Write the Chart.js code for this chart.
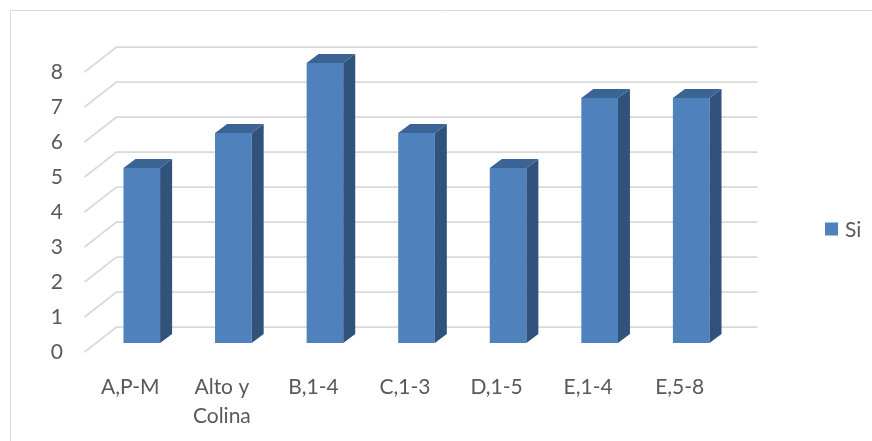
<!DOCTYPE html>
<html>
<head>
<meta charset="utf-8">
<script src="https://cdn.jsdelivr.net/npm/chart.js@4/dist/chart.umd.min.js"></script>
<style>
  html, body { margin: 0; padding: 0; background: #ffffff; }
  canvas { display: block; }
</style>
</head>
<body>
<canvas id="chart" width="872" height="441"></canvas>
<script>
// Categories and counts
const categories = ['A,P-M', ['Alto y', 'Colina'], 'B,1-4', 'C,1-3', 'D,1-5', 'E,1-4', 'E,5-8'];
const siValues = [5, 6, 8, 6, 5, 7, 7];
const seriesName = 'Si';
const yTicks = [0, 1, 2, 3, 4, 5, 6, 7, 8];

const FRONT = '#4F81BD';
const SIDE = '#31527A';
const TOP = '#3B6494';
const GRID = '#D9D9D9';
const TEXT = '#595959';
const FONT = 'Lato, "Open Sans", sans-serif';

// Depth offsets relative to the plane in which the bar fronts are drawn
const WALL = { dx: 20.5, dy: -16 };   // back wall
const FLOOR = { dx: -11.5, dy: 9 };   // front edge of the floor
const BAR = { dx: 12, dy: -9 };       // depth of each column

const frame3d = {
  id: 'frame3d',
  beforeDraw(chart) {
    const ctx = chart.ctx;
    ctx.save();
    ctx.strokeStyle = GRID;
    ctx.lineWidth = 1;
    ctx.beginPath();
    ctx.moveTo(10.5, chart.height);
    ctx.lineTo(10.5, 10.5);
    ctx.lineTo(chart.width, 10.5);
    ctx.stroke();
    ctx.restore();
  },
  beforeDatasetsDraw(chart) {
    const { ctx, chartArea, scales } = chart;
    const y = scales.y;
    ctx.save();
    ctx.strokeStyle = GRID;
    ctx.lineWidth = 1.75;
    yTicks.forEach(v => {
      const py = y.getPixelForValue(v);
      ctx.beginPath();
      ctx.moveTo(chartArea.left + FLOOR.dx, py + FLOOR.dy);
      ctx.lineTo(chartArea.left + WALL.dx, py + WALL.dy);
      ctx.lineTo(chartArea.right + WALL.dx, py + WALL.dy);
      ctx.stroke();
    });
    ctx.restore();
  },
  afterDatasetsDraw(chart) {
    const ctx = chart.ctx;
    const meta = chart.getDatasetMeta(0);
    ctx.save();
    meta.data.forEach(bar => {
      const { x, y, base, width } = bar.getProps(['x', 'y', 'base', 'width'], true);
      const l = x - width / 2, r = x + width / 2;
      // side face
      ctx.fillStyle = SIDE;
      ctx.beginPath();
      ctx.moveTo(r, base);
      ctx.lineTo(r, y);
      ctx.lineTo(r + BAR.dx, y + BAR.dy);
      ctx.lineTo(r + BAR.dx, base + BAR.dy);
      ctx.closePath();
      ctx.fill();
      // top face
      ctx.fillStyle = TOP;
      ctx.beginPath();
      ctx.moveTo(l, y);
      ctx.lineTo(r, y);
      ctx.lineTo(r + BAR.dx, y + BAR.dy);
      ctx.lineTo(l + BAR.dx, y + BAR.dy);
      ctx.closePath();
      ctx.fill();
    });
    ctx.restore();
  },
  afterDraw(chart) {
    // series key at the right, beside the plot
    const ctx = chart.ctx;
    const ds = chart.data.datasets[0];
    const bx = chart.chartArea.right + 88;
    const cy = 229;
    ctx.save();
    ctx.fillStyle = ds.backgroundColor;
    ctx.fillRect(bx, cy - 6.5, 13, 13);
    ctx.fillStyle = TEXT;
    ctx.font = '21px ' + FONT;
    ctx.textAlign = 'left';
    ctx.textBaseline = 'middle';
    ctx.fillText(ds.label, bx + 20, cy + 1);
    ctx.restore();
  }
};

new Chart(document.getElementById('chart'), {
  type: 'bar',
  data: {
    labels: categories,
    datasets: [{
      label: seriesName,
      data: siValues,
      backgroundColor: FRONT,
      borderWidth: 0,
      categoryPercentage: 0.4,
      barPercentage: 1
    }]
  },
  options: {
    responsive: false,
    animation: false,
    events: [],
    layout: { padding: { left: 0, right: 135, top: 63, bottom: 0 } },
    plugins: {
      tooltip: { enabled: false },
      legend: { display: false }
    },
    scales: {
      x: {
        grid: { display: false, drawTicks: false },
        border: { display: false },
        afterFit(scale) { scale.height = 98; },
        ticks: {
          color: TEXT,
          font: { family: FONT, size: 21, lineHeight: 1.38 },
          padding: 30,
          labelOffset: FLOOR.dx,
          maxRotation: 0,
          autoSkip: false
        }
      },
      y: {
        min: 0,
        max: 8,
        grid: { display: false, drawTicks: false },
        border: { display: false },
        afterFit(scale) { scale.width = 96; },
        ticks: {
          stepSize: 1,
          color: TEXT,
          font: { family: FONT, size: 21 },
          padding: 33,
          labelOffset: FLOOR.dy
        }
      }
    }
  },
  plugins: [frame3d]
});
</script>
</body>
</html>
